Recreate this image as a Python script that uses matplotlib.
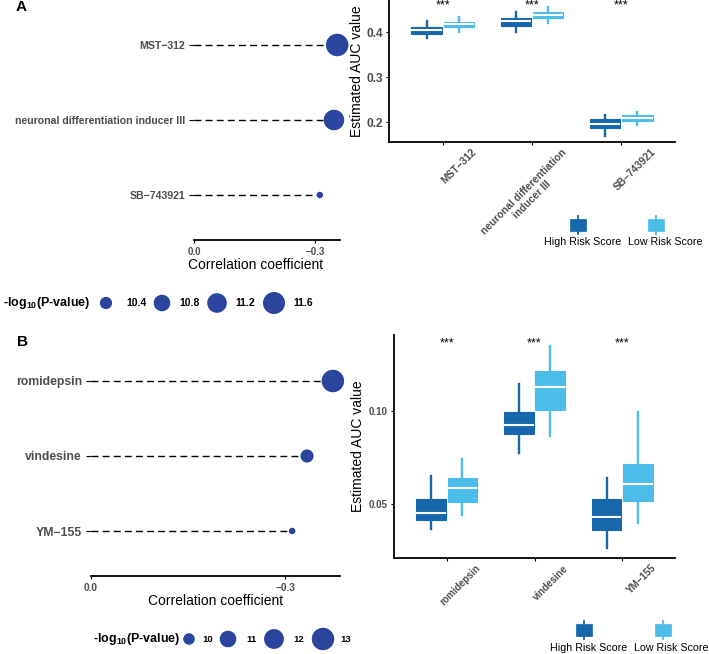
import numpy as np
import matplotlib
matplotlib.use("Agg")
import matplotlib.pyplot as plt
import matplotlib.transforms as mtransforms
from matplotlib.patches import Rectangle

plt.rcParams['font.family'] = ['Liberation Sans', 'DejaVu Sans']
plt.rcParams['mathtext.fontset'] = 'custom'
plt.rcParams['mathtext.rm'] = 'Liberation Sans'
plt.rcParams['mathtext.bf'] = 'Liberation Sans:bold'

# ---------------- data: panel A ----------------
drugs_a = ["MST\u2212312", "neuronal differentiation inducer III", "SB\u2212743921"]
box_names_a = ["MST\u2212312", "neuronal differentiation\ninducer III", "SB\u2212743921"]
corr_a = [-0.355, -0.347, -0.312]
logp_a = [11.69, 11.35, 10.21]
breaks_a = [10.4, 10.8, 11.2, 11.6]
# (whislo, q1, med, q3, whishi)
high_a = [(0.386, 0.395, 0.404, 0.410, 0.425),
          (0.399, 0.414, 0.424, 0.430, 0.445),
          (0.170, 0.186, 0.197, 0.206, 0.217)]
low_a = [(0.399, 0.410, 0.417, 0.422, 0.434),
         (0.421, 0.432, 0.438, 0.445, 0.456),
         (0.193, 0.203, 0.209, 0.215, 0.222)]

# ---------------- data: panel B ----------------
drugs_b = ["romidepsin", "vindesine", "YM\u2212155"]
corr_b = [-0.374, -0.334, -0.311]
logp_b = [13.02, 10.24, 9.67]
breaks_b = [10, 11, 12, 13]
high_b = [(0.0366, 0.0412, 0.0453, 0.0527, 0.0652),
          (0.0776, 0.0875, 0.0923, 0.0995, 0.1148),
          (0.0262, 0.0359, 0.0428, 0.0529, 0.0638)]
low_b = [(0.0441, 0.0512, 0.0588, 0.0638, 0.0740),
         (0.0867, 0.1004, 0.1127, 0.1215, 0.1351),
         (0.0396, 0.0516, 0.0609, 0.0715, 0.0996)]

groups = ["High Risk Score", "Low Risk Score"]
col_high = "#1767AC"
col_low = "#4CBDE8"
dot_col = "#2B449E"
grey = "#4D4D4D"

W, H = 709, 654
fig = plt.figure(figsize=(W / 100, H / 100), dpi=100)


def px_axes(left, top, right, bottom):
    return fig.add_axes([left / W, 1 - bottom / H, (right - left) / W, (bottom - top) / H])


def diam(v, vmin, vmax):
    t = np.clip((np.asarray(v) - vmin) / (vmax - vmin), 0, 1)
    return 6.5 + 16 * np.sqrt(t)


def lollipop(ax, names, corr, logp, xmax, lab_fs, tick_fs):
    y = np.arange(len(names))[::-1] + 1
    vmin, vmax = min(logp), max(logp)
    for yi, c in zip(y, corr):
        ax.plot([0, c], [yi, yi], ls=(0, (5, 3)), color="black", lw=1.0, zorder=1)
    ax.scatter(corr, y, s=(diam(logp, vmin, vmax) * 0.72) ** 2, color=dot_col,
               edgecolors="none", zorder=3, clip_on=False)
    ax.set_xlim(0, xmax)
    ax.set_ylim(0.4, 3.6)
    ax.set_yticks(y)
    ax.set_yticklabels(names, fontweight="bold", color=grey, fontsize=lab_fs)
    ax.set_xticks([0.0, -0.3])
    ax.set_xticklabels(["0.0", "\u22120.3"], fontweight="bold", color=grey, fontsize=tick_fs)
    ax.tick_params(axis="y", length=3.5, width=0.8, pad=3)
    ax.tick_params(axis="x", length=2, width=0.8, pad=3)
    for s in ["top", "right", "left"]:
        ax.spines[s].set_visible(False)
    ax.spines["bottom"].set_linewidth(1.3)
    ax.set_xlabel("Correlation coefficient", fontsize=10)
    ax.patch.set_visible(False)
    return vmin, vmax


def boxes(ax, names, high, low, ylim, yticks, ytl, ytick_fs, star_y, xfs):
    pos = np.arange(1, len(names) + 1)
    for stats, off, col in [(high, -0.18, col_high), (low, 0.18, col_low)]:
        st = [dict(whislo=a, q1=b, med=c, q3=d, whishi=e) for a, b, c, d, e in stats]
        ax.bxp(st, positions=pos + off, widths=0.34, patch_artist=True,
               showfliers=False, showcaps=False,
               boxprops=dict(facecolor=col, edgecolor=col, linewidth=0.8),
               whiskerprops=dict(color=col, linewidth=1.7),
               medianprops=dict(color="white", linewidth=1.5))
    for p in pos:
        ax.text(p, star_y, "***", ha="center", va="center", fontsize=9)
    ax.set_xlim(0.4, 3.6)
    ax.set_ylim(*ylim)
    ax.set_yticks(yticks)
    ax.set_yticklabels(ytl, fontweight="bold", color=grey, fontsize=ytick_fs)
    ax.set_xticks(pos)
    ax.set_xticklabels([])
    off = mtransforms.ScaledTranslation(0.29, -0.05, fig.dpi_scale_trans)
    for p, n in zip(pos, names):
        ax.text(p, 0, n, transform=ax.get_xaxis_transform() + off, rotation=45,
                rotation_mode="anchor", ha="right", va="top", multialignment="center",
                fontweight="bold", color=grey, fontsize=xfs)
    ax.tick_params(length=2.5, width=0.8, pad=2)
    for s in ["top", "right"]:
        ax.spines[s].set_visible(False)
    for s in ["left", "bottom"]:
        ax.spines[s].set_linewidth(1.3)
    ax.set_ylabel("Estimated AUC value", fontsize=10)
    ax.patch.set_visible(False)


# ---- panel A
ax1 = px_axes(194, 0, 340, 240)
vmin_a, vmax_a = lollipop(ax1, drugs_a, corr_a, logp_a, -0.362, 7.6, 7)
ax1.xaxis.set_label_coords(0.42, -0.075)

ax2 = px_axes(389, 0, 675, 142)
boxes(ax2, box_names_a, high_a, low_a, (0.156, 0.471), [0.2, 0.3, 0.4],
      ["0.2", "0.3", "0.4"], 8.6, 0.46, 7.4)
ax2.yaxis.set_label_coords(-0.088, 0.5)

# ---- panel B
ax3 = px_axes(91, 336, 340, 576)
vmin_b, vmax_b = lollipop(ax3, drugs_b, corr_b, logp_b, -0.385, 8.8, 7.3)
ax3.xaxis.set_label_coords(0.5, -0.075)

ax4 = px_axes(394, 335, 675, 558)
boxes(ax4, drugs_b, high_b, low_b, (0.021, 0.1409), [0.05, 0.10],
      ["0.05", "0.10"], 7, 0.1366, 7)
ax4.yaxis.set_label_coords(-0.103, 0.5)

# ---- overlay for legends and panel letters (pixel coordinates)
ov = fig.add_axes([0, 0, 1, 1])
ov.set_xlim(0, W)
ov.set_ylim(H, 0)
ov.axis("off")
ov.patch.set_visible(False)

ov.text(21, 7, "A", fontsize=11, fontweight="bold", ha="center", va="center")
ov.text(23, 342, "B", fontsize=11, fontweight="bold", ha="center", va="center")

title = r"-log$_{\mathbf{10}}$(P-value)"
# size legend A
ov.text(90, 303, title, fontsize=9, fontweight="bold", ha="right", va="center")
for bx, lx, b in zip([106, 162, 217, 274], [126, 179, 235, 293], breaks_a):
    ov.scatter([bx], [303], s=(diam(b, vmin_a, vmax_a) * 0.72) ** 2, color=dot_col,
               edgecolors="none")
    ov.text(lx, 303, f"{b:.1f}", fontsize=7.5, fontweight="bold", ha="left", va="center")
# size legend B
ov.text(180, 639, title, fontsize=9, fontweight="bold", ha="right", va="center")
for bx, lx, b in zip([189, 228, 274, 323], [202, 246, 293, 340], breaks_b):
    ov.scatter([bx], [639], s=(diam(b, vmin_b, vmax_b) * 0.72) ** 2, color=dot_col,
               edgecolors="none")
    ov.text(lx, 639, f"{b}", fontsize=6.8, fontweight="bold", ha="left", va="center")

# risk group legends
for keys, labs, ky, ly in [([578, 656], [583, 665], 225, 242),
                           ([584, 663], [589, 671], 630, 648)]:
    for kx, lx, g, c in zip(keys, labs, groups, [col_high, col_low]):
        ov.plot([kx, kx], [ky - 9, ky + 9], color=c, lw=1.3)
        ov.add_patch(Rectangle((kx - 8, ky - 6), 16, 12, facecolor=c, edgecolor=c, lw=0.5))
        ov.text(lx, ly, g, fontsize=7.7, ha="center", va="center")

fig.savefig("out.png", dpi=100)
